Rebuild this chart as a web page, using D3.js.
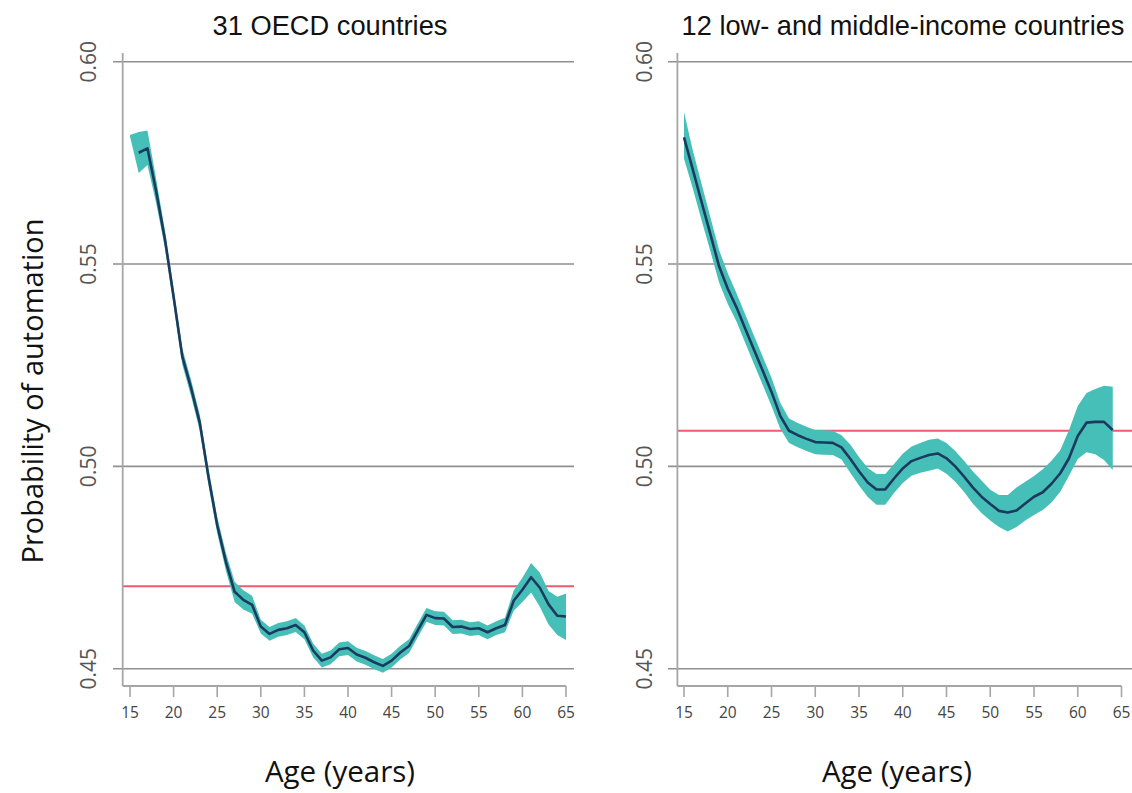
<!DOCTYPE html>
<html><head><meta charset="utf-8">
<script src="https://cdn.jsdelivr.net/npm/d3@7/dist/d3.min.js"></script>
<style>html,body{margin:0;padding:0;background:#fff;}svg{display:block;}</style>
</head><body>
<svg id="chart" width="1132" height="793"></svg>
<script>
// ---------- data ----------
const leftTitle = "31 OECD countries";
const rightTitle = "12 low- and middle-income countries";
const yTicks = [0.45, 0.50, 0.55, 0.60];
const xTicks = [15, 20, 25, 30, 35, 40, 45, 50, 55, 60, 65];

const agesLeft = d3.range(15, 66);
const meanLeft = [null,
  0.5775, 0.5786, 0.5680, 0.5562, 0.5419, 0.5271, 0.5194, 0.5108, 0.4974, 0.4855,
  0.4764, 0.4690, 0.4670, 0.4658, 0.4604, 0.4586, 0.4596, 0.4600, 0.4608, 0.4590,
  0.4545, 0.4520, 0.4528, 0.4548, 0.4551, 0.4535, 0.4527, 0.4516, 0.4507, 0.4520,
  0.4540, 0.4556, 0.4595, 0.4633, 0.4625, 0.4624, 0.4603, 0.4604, 0.4598, 0.4600,
  0.4590, 0.4600, 0.4608, 0.4668, 0.4695, 0.4726, 0.4700, 0.4659, 0.4631, 0.4629];
const upperLeft = [0.5819,
  0.5826, 0.5830, 0.5710, 0.5584, 0.5439, 0.5291, 0.5214, 0.5128, 0.4994, 0.4875,
  0.4786, 0.4715, 0.4694, 0.4680, 0.4621, 0.4603, 0.4613, 0.4617, 0.4625, 0.4607,
  0.4562, 0.4537, 0.4545, 0.4565, 0.4568, 0.4552, 0.4544, 0.4533, 0.4524, 0.4537,
  0.4557, 0.4573, 0.4612, 0.4650, 0.4642, 0.4641, 0.4620, 0.4621, 0.4615, 0.4617,
  0.4607, 0.4617, 0.4626, 0.4693, 0.4725, 0.4761, 0.4737, 0.4692, 0.4678, 0.4686];
const lowerLeft = [0.5815,
  0.5725, 0.5745, 0.5650, 0.5540, 0.5399, 0.5251, 0.5174, 0.5088, 0.4954, 0.4835,
  0.4742, 0.4665, 0.4646, 0.4636, 0.4587, 0.4569, 0.4579, 0.4583, 0.4591, 0.4573,
  0.4528, 0.4503, 0.4511, 0.4531, 0.4534, 0.4518, 0.4510, 0.4499, 0.4490, 0.4503,
  0.4523, 0.4539, 0.4578, 0.4616, 0.4608, 0.4607, 0.4586, 0.4587, 0.4581, 0.4583,
  0.4573, 0.4583, 0.4590, 0.4643, 0.4665, 0.4688, 0.4653, 0.4609, 0.4583, 0.4571];
const refLeft = 0.4704;

const agesRight = d3.range(15, 65);
const meanRight = [
  0.5813, 0.5734, 0.5654, 0.5575, 0.5495, 0.5439, 0.5393, 0.5340, 0.5288, 0.5236,
  0.5184, 0.5125, 0.5088, 0.5077, 0.5068, 0.5060, 0.5059, 0.5058, 0.5047, 0.5019,
  0.4988, 0.4960, 0.4943, 0.4943, 0.4970, 0.4995, 0.5013, 0.5021, 0.5028, 0.5032,
  0.5020, 0.5000, 0.4975, 0.4948, 0.4925, 0.4907, 0.4890, 0.4886, 0.4891, 0.4908,
  0.4925, 0.4936, 0.4957, 0.4983, 0.5020, 0.5075, 0.5108, 0.5110, 0.5110, 0.5090];
const upperRight = [
  0.5876, 0.5781, 0.5699, 0.5617, 0.5535, 0.5477, 0.5428, 0.5375, 0.5323, 0.5271,
  0.5219, 0.5157, 0.5118, 0.5107, 0.5098, 0.5090, 0.5089, 0.5088, 0.5077, 0.5054,
  0.5023, 0.4996, 0.4981, 0.4981, 0.5006, 0.5031, 0.5049, 0.5058, 0.5066, 0.5069,
  0.5058, 0.5038, 0.5014, 0.4988, 0.4965, 0.4942, 0.4929, 0.4929, 0.4948, 0.4962,
  0.4976, 0.4993, 0.5014, 0.5040, 0.5090, 0.5149, 0.5181, 0.5191, 0.5199, 0.5197];
const lowerRight = [
  0.5760, 0.5687, 0.5609, 0.5533, 0.5455, 0.5401, 0.5358, 0.5305, 0.5253, 0.5201,
  0.5149, 0.5093, 0.5058, 0.5047, 0.5038, 0.5030, 0.5029, 0.5028, 0.5017, 0.4984,
  0.4953, 0.4924, 0.4905, 0.4905, 0.4934, 0.4959, 0.4977, 0.4984, 0.4989, 0.4995,
  0.4982, 0.4962, 0.4937, 0.4908, 0.4885, 0.4866, 0.4850, 0.4839, 0.4850, 0.4866,
  0.4880, 0.4892, 0.4911, 0.4937, 0.4977, 0.5018, 0.5035, 0.5030, 0.5016, 0.4991];
const refRight = 0.5088;

// ---------- drawing ----------
const svg = d3.select("#chart");
const y = d3.scaleLinear().domain([0.45, 0.60]).range([668.7, 61.7]);

const panels = [
  {title: leftTitle, ages: agesLeft, mean: meanLeft, upper: upperLeft, lower: lowerLeft, ref: refLeft,
   x: d3.scaleLinear().domain([15, 65]).range([130, 566]), axisX: 122.7, gridL: 113, gridR: 574,
   titleX: 330, titleW: 235, tickLabX: 88, xTitleX: 340},
  {title: rightTitle, ages: agesRight, mean: meanRight, upper: upperRight, lower: lowerRight, ref: refRight,
   x: d3.scaleLinear().domain([15, 65]).range([684, 1121.5]), axisX: 677.4, gridL: 668, gridR: 1132,
   titleX: 903, titleW: 443, tickLabX: 644, xTitleX: 897}
];

const axisY = 686;
const grey = "#8f8f8f";

panels.forEach(p => {
  const g = svg.append("g");
  g.selectAll("line.grid").data(yTicks).enter().append("line")
    .attr("x1", p.gridL).attr("x2", p.gridR)
    .attr("y1", d => y(d)).attr("y2", d => y(d))
    .attr("stroke", grey).attr("stroke-width", 1.6);
  g.append("line").attr("x1", p.axisX).attr("x2", p.gridR)
    .attr("y1", y(p.ref)).attr("y2", y(p.ref))
    .attr("stroke", "#ef5a6f").attr("stroke-width", 2);
  const rows = p.ages.map((a, i) => ({a, m: p.mean[i], u: p.upper[i], l: p.lower[i]}));
  g.append("path").datum(rows)
    .attr("d", d3.area().x(d => p.x(d.a)).y0(d => y(d.l)).y1(d => y(d.u)))
    .attr("fill", "#46bfb9");
  g.append("path").datum(rows)
    .attr("d", d3.line().defined(d => d.m !== null).x(d => p.x(d.a)).y(d => y(d.m)))
    .attr("fill", "none").attr("stroke", "#1c3a5e").attr("stroke-width", 2.6)
    .attr("stroke-linejoin", "round");
  g.append("line").attr("x1", p.axisX).attr("x2", p.axisX).attr("y1", 53).attr("y2", axisY)
    .attr("stroke", "#a6a6a6").attr("stroke-width", 1.8);
  g.append("line").attr("x1", p.axisX).attr("x2", p.x(65)).attr("y1", axisY).attr("y2", axisY)
    .attr("stroke", "#a6a6a6").attr("stroke-width", 1.8);
  g.selectAll("line.xt").data(xTicks).enter().append("line")
    .attr("x1", d => p.x(d)).attr("x2", d => p.x(d)).attr("y1", axisY).attr("y2", axisY + 11)
    .attr("stroke", "#a6a6a6").attr("stroke-width", 1.6);
  g.selectAll("text.xt").data(xTicks).enter().append("text")
    .attr("x", d => p.x(d)).attr("y", 718)
    .attr("text-anchor", "middle").attr("font-family", "Open Sans, sans-serif")
    .attr("font-size", 15.5).attr("fill", "#444").text(d => d);
  g.selectAll("text.yt").data(yTicks).enter().append("text")
    .attr("transform", d => `translate(${p.tickLabX + 8},${y(d)}) rotate(-90)`)
    .attr("text-anchor", "middle").attr("font-family", "Open Sans, sans-serif")
    .attr("font-size", 21).attr("fill", "#555").text(d => d.toFixed(2));
  const t = g.append("text").attr("text-anchor", "middle")
    .attr("font-family", "Liberation Sans, Arial, sans-serif")
    .attr("font-size", 28).attr("fill", "#111").text(p.title);
  const w = t.node().getComputedTextLength();
  t.attr("transform", `translate(${p.titleX},35) scale(${p.titleW / w},1)`);
  g.append("text").attr("x", p.xTitleX).attr("y", 782).attr("text-anchor", "middle")
    .attr("font-family", "Open Sans, sans-serif").attr("font-size", 29.5).attr("fill", "#111")
    .text("Age (years)");
});

svg.append("text").attr("transform", "translate(43,391) rotate(-90)")
  .attr("text-anchor", "middle").attr("font-family", "Open Sans, sans-serif")
  .attr("font-size", 29).attr("fill", "#111").text("Probability of automation");
</script>
</body></html>
